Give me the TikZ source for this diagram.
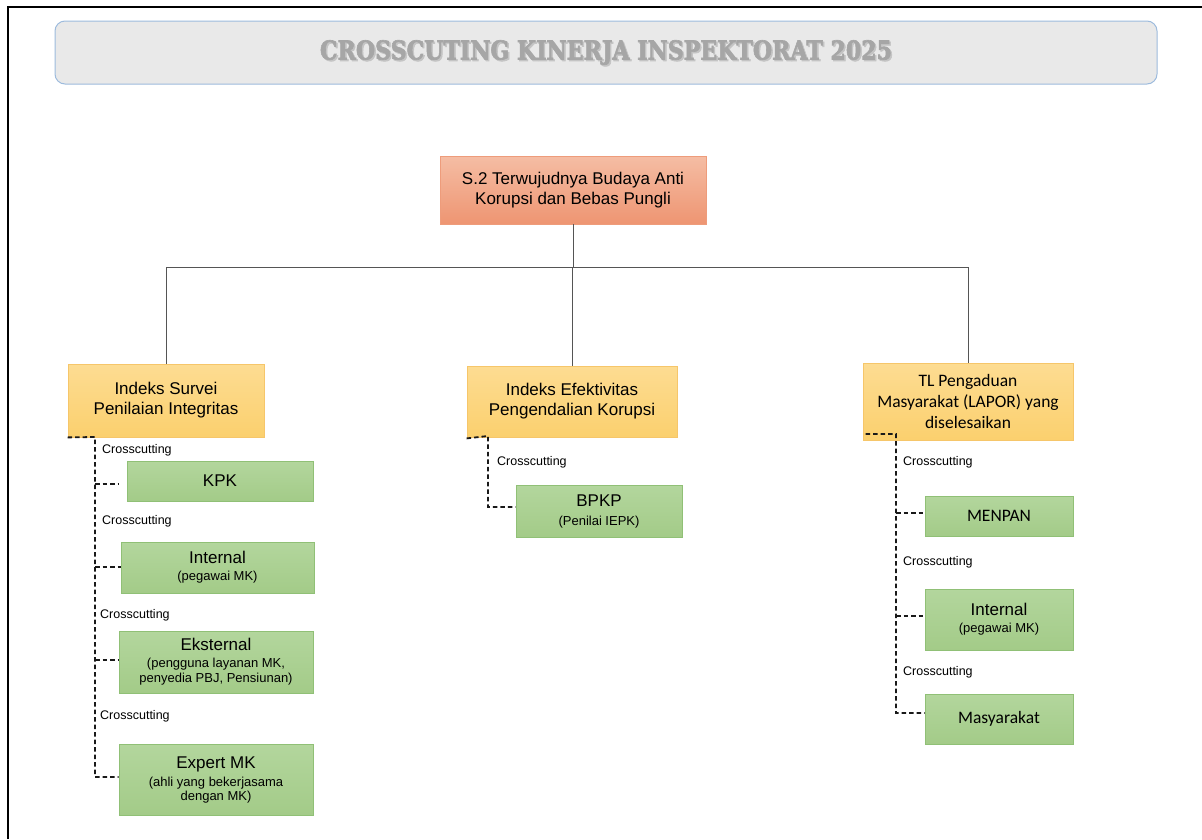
\documentclass[tikz,border=0pt]{standalone}
\usepackage{fontspec}
\setmainfont{Liberation Sans}
\newfontfamily\calfont{Carlito}
\newfontfamily\headfont{DejaVu Serif}[BoldFeatures={FakeBold=2.5}]
\usetikzlibrary{calc}

\definecolor{titlefill}{HTML}{E9E9E9}
\definecolor{titleline}{HTML}{9DBBDD}
\definecolor{titletext}{HTML}{A6A6A6}
\definecolor{titleshade}{HTML}{C4C4C4}
\definecolor{salmontop}{HTML}{F5BDA4}
\definecolor{salmonbot}{HTML}{EE9572}
\definecolor{salmonline}{HTML}{EE9C7B}
\definecolor{ambertop}{HTML}{FDDC92}
\definecolor{amberbot}{HTML}{FBD06E}
\definecolor{amberline}{HTML}{F6C66A}
\definecolor{greentop}{HTML}{B3D69D}
\definecolor{greenbot}{HTML}{A3CB88}
\definecolor{greenline}{HTML}{90C076}
\definecolor{treeline}{HTML}{555555}

\newcommand{\bigtxt}{\fontsize{17}{20}\selectfont}
\newcommand{\caltxt}{\calfont\fontsize{17.5}{21}\selectfont}
\newcommand{\smalltxt}{\fontsize{13}{15}\selectfont}
\newcommand{\headtxt}{\scalebox{0.85}[1]{CROSSCUTING KINERJA INSPEKTORAT 2025}}

\tikzset{
  goalbox/.style={draw=salmonline, top color=salmontop, bottom color=salmonbot,
    line width=0.8pt, inner sep=0pt, align=center, font=\bigtxt},
  indexbox/.style={draw=amberline, top color=ambertop, bottom color=amberbot,
    line width=0.8pt, inner sep=0pt, align=center, font=\bigtxt},
  partnerbox/.style={draw=greenline, top color=greentop, bottom color=greenbot,
    line width=0.8pt, inner sep=0pt, align=center, font=\bigtxt},
  treelink/.style={draw=treeline, line width=1pt},
  crosslink/.style={draw=black!90, line width=1.8pt, dash pattern=on 4.5pt off 3pt},
  crosslabel/.style={anchor=west, inner sep=0pt, font=\fontsize{12.5}{15}\selectfont},
  headstyle/.style={font=\headfont\bfseries\fontsize{26}{26}\selectfont},
}

\begin{document}
\begin{tikzpicture}[x=1pt, y=-1pt]
\useasboundingbox (0,0) rectangle (1202,839);

% page frame (left and top edges)
\draw[line width=2pt] (8,839) -- (8,7) -- (1202,7);

% heading banner
\node[draw=titleline, fill=titlefill, rounded corners=10pt, line width=1pt,
      minimum width=1102pt, minimum height=63pt] (banner) at (606,52.5) {};
\node[headstyle, text=titleshade] at (607.5,54) {\headtxt};
\node[headstyle, text=titletext] (heading) at (606,52.5) {\headtxt};

% goal
\node[goalbox, minimum width=266pt, minimum height=68pt] (goal) at (573,190)
  {S.2 Terwujudnya Budaya Anti\\Korupsi dan Bebas Pungli};

% indicators
\node[indexbox, minimum width=196pt, minimum height=73pt] (ispi) at (166,400.5)
  {Indeks Survei\\Penilaian Integritas};
\node[indexbox, minimum width=210pt, minimum height=71pt] (iepk) at (572,401.5)
  {Indeks Efektivitas\\Pengendalian Korupsi};
\node[indexbox, minimum width=210pt, minimum height=77pt, font=\caltxt] (lapor) at (968,401.5)
  {TL Pengaduan\\Masyarakat (LAPOR) yang\\diselesaikan};

% tree links
\coordinate (bus) at ($(goal.south)+(0,43)$);
\draw[treelink] (goal.south) -- (bus);
\draw[treelink] (ispi.north) |- (bus) -| (lapor.north);
\draw[treelink] (bus) -- (bus -| iepk.north) -- (iepk.north);

% partners of the integrity survey
\node[partnerbox, minimum width=186pt, minimum height=40pt] (kpk) at (220,481) {KPK};
\node[partnerbox, minimum width=193pt, minimum height=51pt] (intl) at (217.5,567.5)
  {Internal\\[-3pt]{\smalltxt (pegawai MK)}};
\node[partnerbox, minimum width=194pt, minimum height=62pt] (ekst) at (216,662)
  {Eksternal\\[-3pt]{\smalltxt (pengguna layanan MK,}\\[-5pt]{\smalltxt penyedia PBJ, Pensiunan)}};
\node[partnerbox, minimum width=194pt, minimum height=71pt] (expert) at (216,779.5)
  {Expert MK\\[-2pt]{\smalltxt (ahli yang bekerjasama}\\[-6pt]{\smalltxt dengan MK)}};

\coordinate (spineL) at (95,437);
\draw[crosslink] (ispi.south west) -- (spineL) |- ($(expert.west)+(0,-2.5)$);
\draw[crosslink] ($(spineL |- kpk.west)+(0,3)$) -- ($(kpk.west)+(-9,3)$);
\draw[crosslink] ($(spineL |- intl.west)+(0,-0.5)$) -- ($(intl.west)+(0,-0.5)$);
\draw[crosslink] ($(spineL |- ekst.west)+(0,-2)$) -- ($(ekst.west)+(0,-2)$);

\node[crosslabel] (cl1) at (102,450) {Crosscutting};
\node[crosslabel] (cl2) at (102,521) {Crosscutting};
\node[crosslabel] (cl3) at (100,615) {Crosscutting};
\node[crosslabel] (cl4) at (100,716) {Crosscutting};

% partner of the corruption control index
\node[partnerbox, minimum width=166pt, minimum height=52pt] (bpkp) at (599,511)
  {BPKP\\[-1pt]{\smalltxt (Penilai IEPK)}};
\coordinate (spineM) at (488,436);
\draw[crosslink] ($(iepk.south west)+(0,1)$) -- (spineM) |- ($(bpkp.west)+(0,-4)$);
\node[crosslabel] (cl5) at (497,462) {Crosscutting};

% partners of the public complaints follow-up
\node[partnerbox, minimum width=148pt, minimum height=40pt, font=\caltxt] (menpan) at (999,516) {MENPAN};
\node[partnerbox, minimum width=148pt, minimum height=61pt] (intr) at (999,619.5)
  {Internal\\[-3pt]{\smalltxt (pegawai MK)}};
\node[partnerbox, minimum width=148pt, minimum height=50pt, font=\caltxt] (masy) at (999,719)
  {Masyarakat};

\coordinate (spineR) at (896,434);
\draw[crosslink] ($(lapor.south west)+(3,-6.5)$) -- (spineR) |- ($(masy.west)+(0,-6)$);
\draw[crosslink] ($(spineR |- menpan.west)+(0,-3)$) -- ($(menpan.west)+(0,-3)$);
\draw[crosslink] ($(spineR |- intr.west)+(0,-3.5)$) -- ($(intr.west)+(0,-3.5)$);

\node[crosslabel] (cl6) at (903,462) {Crosscutting};
\node[crosslabel] (cl7) at (903,562) {Crosscutting};
\node[crosslabel] (cl8) at (903,672) {Crosscutting};
\end{tikzpicture}
\end{document}
